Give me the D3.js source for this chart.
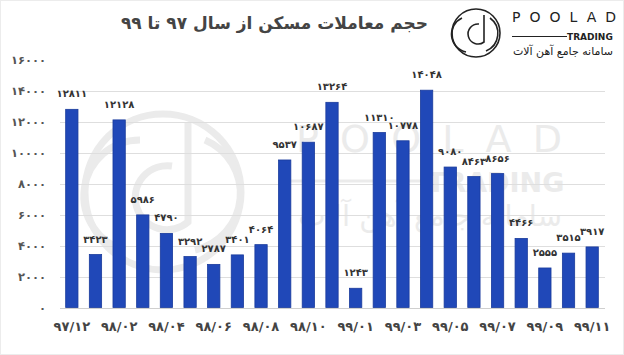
<!DOCTYPE html>
<html>
<head>
<meta charset="utf-8">
<script src="https://cdn.jsdelivr.net/npm/d3@7/dist/d3.min.js"></script>
<style>
  html, body { margin: 0; padding: 0; background: #fff; }
  svg { display: block; }
</style>
</head>
<body>
<svg id="chart" width="624" height="355"></svg>
<script>
const categories = ["۹۷/۱۲","۹۸/۰۱","۹۸/۰۲","۹۸/۰۳","۹۸/۰۴","۹۸/۰۵","۹۸/۰۶","۹۸/۰۷","۹۸/۰۸","۹۸/۰۹","۹۸/۱۰","۹۸/۱۱",
                    "۹۹/۰۱","۹۹/۰۲","۹۹/۰۳","۹۹/۰۴","۹۹/۰۵","۹۹/۰۶","۹۹/۰۷","۹۹/۰۸","۹۹/۰۹","۹۹/۱۰","۹۹/۱۱"];
const values = [12811, 3423, 12128, 5986, 4790, 3292, 2787, 3401, 4064, 9537, 10687, 13264,
                1243, 11310, 10778, 14048, 9080, 8463, 8656, 4466, 2555, 3515, 3917];
const yTicks = [0, 2000, 4000, 6000, 8000, 10000, 12000, 14000, 16000];
const title = "حجم معاملات مسکن از سال ۹۷ تا ۹۹";
const brand = "POOLAD";
const brandSub = "TRADING";
const brandFa = "سامانه جامع آهن آلات";

const fa = s => String(s).replace(/[0-9]/g, d => "۰۱۲۳۴۵۶۷۸۹"[+d]);
const FONT = "'DejaVu Sans', 'Noto Sans', sans-serif";

const svg = d3.select("#chart");
const x = d3.scaleBand().domain(categories).range([60, 604]).paddingInner(0.48).paddingOuter(0.24);
const y = d3.scaleLinear().domain([0, 16000]).range([307.5, 60]);

// faint border
svg.append("rect").attr("x", 0.5).attr("y", 0.5).attr("width", 623).attr("height", 354)
  .attr("fill", "none").attr("stroke", "#ececec");

// watermark
const WM = "#ebebeb";
const wm = svg.append("g").attr("fill", "none").attr("stroke", WM).attr("stroke-width", 7);
wm.append("circle").attr("cx", 163).attr("cy", 192).attr("r", 78);
wm.append("path").attr("d", "M 188 122 L 188 222 A 32 32 0 1 1 172 166");
wm.append("path").attr("d", "M 125 250 A 56 56 0 0 1 140 140");
wm.append("path").attr("d", "M 205 140 A 58 58 0 0 1 195 250");
const wmt = svg.append("g").attr("fill", WM).style("font-family", FONT);
wmt.append("text").attr("x", 296).attr("y", 152).attr("font-size", 38)
  .attr("textLength", 266).attr("lengthAdjust", "spacing").text(brand);
wmt.append("line").attr("x1", 288).attr("x2", 425).attr("y1", 181).attr("y2", 181)
  .attr("stroke", WM).attr("stroke-width", 3);
wmt.append("text").attr("x", 427).attr("y", 192).attr("font-size", 27).attr("font-weight", "bold")
  .text(brandSub);
wmt.append("text").attr("x", 562).attr("y", 226).attr("font-size", 29).attr("text-anchor", "start")
  .attr("direction", "rtl").text(brandFa);

// gridlines
svg.append("g").selectAll("line").data(yTicks.filter(t => t <= 14000)).join("line")
  .attr("x1", 60).attr("x2", 605)
  .attr("y1", d => Math.round(y(d)) + 0.5).attr("y2", d => Math.round(y(d)) + 0.5)
  .attr("stroke", d => d === 0 ? "#cfcfcf" : "#dedede").attr("stroke-width", 1);

// y axis labels
const yAxis = d3.axisLeft(y).tickValues(yTicks).tickSize(0).tickPadding(0).tickFormat(d => fa(d));
const ya = svg.append("g").attr("transform", "translate(46,0)").call(yAxis);
ya.select(".domain").remove();
ya.selectAll("text").attr("fill", "#555").style("font-family", FONT)
  .style("font-size", "11.5px").style("font-weight", "bold");

// bars
svg.append("g").selectAll("rect").data(values).join("rect")
  .attr("x", (d, i) => x(categories[i]))
  .attr("y", d => y(d))
  .attr("width", x.bandwidth())
  .attr("height", d => y(0) - y(d))
  .attr("fill", "#2048b8").attr("stroke", "#1a3b9c").attr("stroke-width", 0.8);

// value labels
svg.append("g").selectAll("text").data(values).join("text")
  .attr("x", (d, i) => x(categories[i]) + x.bandwidth() / 2)
  .attr("y", d => y(d) - 12)
  .attr("text-anchor", "middle")
  .attr("fill", "#333").style("font-family", FONT)
  .style("font-size", "10px").style("font-weight", "bold")
  .text(d => fa(d));

// x axis labels (every other category)
const xAxis = d3.axisBottom(x).tickSize(0).tickPadding(0)
  .tickValues(categories.filter((c, i) => i % 2 === 0));
const xa = svg.append("g").attr("transform", "translate(0,323)").call(xAxis);
xa.select(".domain").remove();
xa.selectAll("text").attr("fill", "#444").attr("dy", "0.6em").style("font-family", FONT)
  .style("font-size", "13px").style("font-weight", "bold").attr("direction", "ltr");

// title
svg.append("text").attr("x", 428).attr("y", 29).attr("text-anchor", "start")
  .attr("direction", "rtl").attr("fill", "#444").style("font-family", FONT)
  .style("font-size", "17px").style("font-weight", "bold").text(title);

// logo
const lg = svg.append("g").attr("fill", "none").attr("stroke", "#222").attr("stroke-width", 1.6);
lg.append("circle").attr("cx", 476).attr("cy", 33).attr("r", 24);
lg.append("path").attr("d", "M 484 15 L 484 42 A 10 10 0 1 1 479 24");
lg.append("path").attr("d", "M 466 52 A 18 18 0 0 1 462 18");
lg.append("path").attr("d", "M 490 18 A 19 19 0 0 1 486 51");
svg.append("text").attr("x", 512).attr("y", 22).attr("fill", "#222").style("font-family", FONT)
  .style("font-size", "14px").attr("textLength", 104).attr("lengthAdjust", "spacing").text(brand);
svg.append("line").attr("x1", 512).attr("x2", 567).attr("y1", 36.5).attr("y2", 36.5)
  .attr("stroke", "#222").attr("stroke-width", 1.2);
svg.append("text").attr("x", 567).attr("y", 40).attr("fill", "#222").style("font-family", FONT)
  .style("font-size", "9px").style("font-weight", "bold").text(brandSub);
svg.append("text").attr("x", 613).attr("y", 55).attr("text-anchor", "start").attr("direction", "rtl")
  .attr("fill", "#222").style("font-family", FONT).style("font-size", "11px").text(brandFa);
</script>
</body>
</html>
